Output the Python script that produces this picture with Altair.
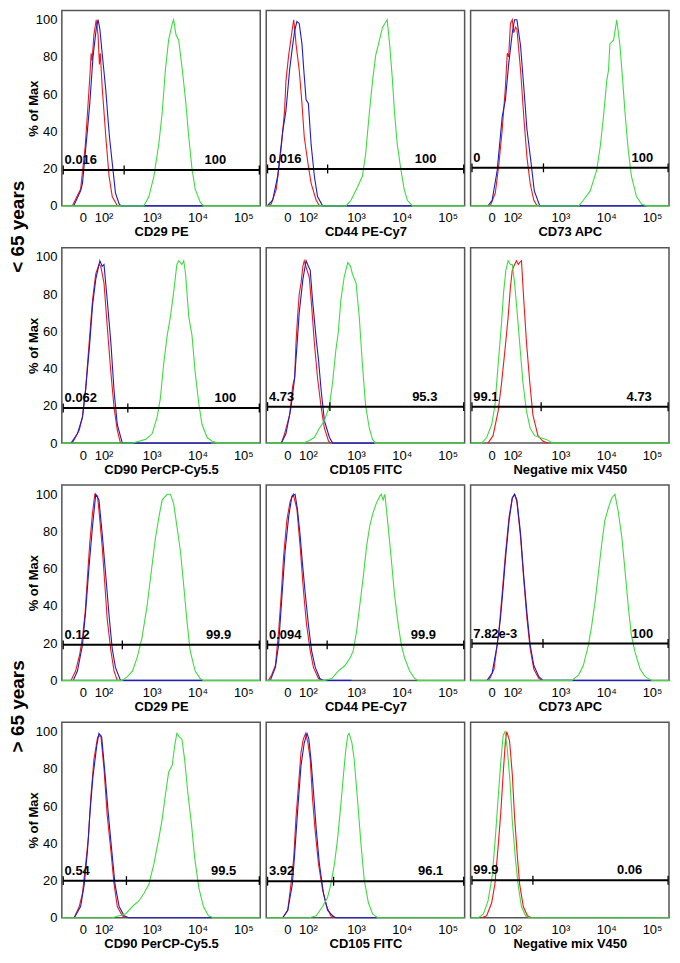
import altair as alt
import pandas as pd

FONT = "Liberation Sans"
RED = "#f01818"
BLUE = "#1c1cc8"
GREEN = "#3fdc3f"

TITLES = ["CD29 PE", "CD44 PE-Cy7", "CD73 APC", "CD90 PerCP-Cy5.5", "CD105 FITC", "Negative mix V450",
          "CD29 PE", "CD44 PE-Cy7", "CD73 APC", "CD90 PerCP-Cy5.5", "CD105 FITC", "Negative mix V450"]
ROW_LABELS = ["< 65 years", "> 65 years"]

# x: fluorescence in decade units of the display scale, y: % of Max
p1_red_x = [1.27, 1.45, 1.55, 1.60, 1.65, 1.68, 1.70, 1.74, 1.79, 1.83, 1.86, 1.88, 1.92, 2.00, 2.07, 2.14, 2.25]
p1_red_y = [0, 9, 32, 50, 69, 82, 78, 92, 100, 92, 76, 82, 64, 37, 16, 5, 0]
p1_blue_x = [1.30, 1.45, 1.49, 1.60, 1.65, 1.72, 1.79, 1.83, 1.87, 1.92, 2.00, 2.05, 2.08, 2.14, 2.21, 2.29, 2.33, 4.13]
p1_blue_y = [0, 8, 12, 41, 55, 80, 95, 100, 95, 82, 62, 46, 37, 23, 7, 1, 0, 0]
p1_green_x = [1.04, 2.83, 2.94, 3.05, 3.16, 3.23, 3.30, 3.37, 3.45, 3.48, 3.53, 3.59, 3.66, 3.74, 3.81, 3.88, 3.95, 4.06, 4.13, 5.37]
p1_green_y = [0, 0, 5, 16, 34, 50, 73, 89, 98, 100, 92, 89, 75, 57, 37, 20, 9, 2, 0, 0]

p2_red_x = [1.08, 1.15, 1.26, 1.33, 1.37, 1.44, 1.47, 1.53, 1.57, 1.61, 1.64, 1.67, 1.69, 1.76, 1.82, 1.87, 1.95, 2.02, 2.13, 2.20]
p2_red_y = [0, 1, 9, 23, 32, 51, 67, 81, 88, 95, 100, 93, 87, 73, 55, 37, 23, 12, 3, 0]
p2_blue_x = [1.06, 1.18, 1.29, 1.40, 1.47, 1.55, 1.61, 1.66, 1.71, 1.76, 1.82, 1.86, 1.91, 1.96, 2.02, 2.09, 2.16, 2.27, 4.23]
p2_blue_y = [0, 3, 16, 40, 51, 73, 85, 94, 99, 98, 87, 73, 57, 55, 33, 16, 5, 0, 0]
p2_green_x = [1.04, 2.78, 2.89, 3.03, 3.14, 3.21, 3.29, 3.36, 3.43, 3.50, 3.58, 3.63, 3.68, 3.74, 3.79, 3.84, 3.90, 3.97, 4.05, 4.12, 4.23, 5.37]
p2_green_y = [0, 0, 3, 10, 16, 28, 50, 67, 81, 88, 96, 98, 100, 85, 69, 50, 33, 21, 9, 3, 0, 0]

p3_red_x = [1.47, 1.58, 1.66, 1.73, 1.80, 1.84, 1.87, 1.91, 1.95, 1.98, 2.02, 2.05, 2.13, 2.20, 2.27, 2.34, 2.42, 2.49]
p3_red_y = [0, 7, 23, 41, 64, 82, 80, 98, 100, 93, 96, 95, 73, 48, 26, 12, 3, 0]
p3_blue_x = [1.42, 1.51, 1.62, 1.73, 1.80, 1.87, 1.95, 2.00, 2.05, 2.13, 2.20, 2.27, 2.36, 2.43, 2.55, 4.88]
p3_blue_y = [0, 3, 19, 48, 57, 76, 93, 100, 100, 86, 64, 41, 23, 8, 0, 0]
p3_green_x = [1.04, 3.40, 3.50, 3.65, 3.79, 3.87, 3.94, 4.01, 4.05, 4.08, 4.16, 4.23, 4.30, 4.36, 4.41, 4.48, 4.55, 4.66, 4.77, 4.88, 5.37]
p3_green_y = [0, 0, 3, 8, 19, 32, 48, 67, 73, 87, 89, 100, 86, 67, 50, 30, 16, 5, 1, 0, 0]

p4_red_x = [1.27, 1.42, 1.49, 1.56, 1.63, 1.71, 1.78, 1.85, 1.89, 1.96, 2.03, 2.11, 2.18, 2.25, 2.32]
p4_red_y = [0, 7, 14, 29, 52, 77, 91, 96, 95, 86, 63, 38, 19, 7, 0]
p4_blue_x = [1.24, 1.38, 1.49, 1.56, 1.65, 1.71, 1.78, 1.87, 1.92, 1.96, 2.03, 2.11, 2.18, 2.25, 2.36, 4.30]
p4_blue_y = [0, 5, 14, 29, 54, 74, 88, 98, 95, 96, 77, 54, 28, 10, 0, 0]
p4_green_x = [1.04, 2.58, 2.72, 2.87, 3.01, 3.12, 3.19, 3.26, 3.34, 3.41, 3.48, 3.55, 3.59, 3.66, 3.70, 3.74, 3.81, 3.88, 3.95, 4.03, 4.10, 4.21, 4.32, 4.46, 5.37]
p4_green_y = [0, 0, 1, 2, 5, 14, 24, 42, 58, 68, 81, 96, 98, 96, 98, 91, 68, 58, 38, 21, 10, 3, 1, 0, 0]

p5_red_x = [1.37, 1.44, 1.55, 1.62, 1.66, 1.69, 1.73, 1.76, 1.80, 1.84, 1.87, 1.93, 1.98, 2.03, 2.09, 2.16, 2.24, 2.31, 2.40, 2.45]
p5_red_y = [0, 5, 15, 31, 35, 54, 70, 80, 86, 95, 98, 93, 89, 74, 54, 35, 19, 8, 1, 0]
p5_blue_x = [1.37, 1.47, 1.58, 1.66, 1.71, 1.76, 1.84, 1.91, 1.96, 2.00, 2.05, 2.13, 2.18, 2.24, 2.31, 2.42, 2.49, 3.40]
p5_blue_y = [0, 5, 19, 35, 52, 70, 88, 98, 95, 93, 77, 56, 45, 28, 12, 3, 0, 0]
p5_green_x = [1.04, 1.84, 1.95, 2.09, 2.20, 2.31, 2.42, 2.49, 2.56, 2.61, 2.67, 2.74, 2.82, 2.88, 2.92, 3.00, 3.07, 3.14, 3.21, 3.29, 3.36, 3.43, 5.37]
p5_green_y = [0, 0, 1, 3, 8, 12, 20, 33, 50, 59, 77, 89, 97, 95, 91, 86, 68, 42, 20, 8, 2, 0, 0]

p6_red_x = [1.42, 1.53, 1.64, 1.71, 1.79, 1.86, 1.91, 1.95, 2.00, 2.04, 2.08, 2.11, 2.15, 2.20, 2.26, 2.33, 2.40, 2.51, 2.62, 2.73]
p6_red_y = [0, 4, 17, 31, 50, 68, 84, 93, 96, 98, 96, 97, 98, 77, 54, 33, 15, 4, 1, 0]
p6_green_x = [1.04, 1.28, 1.39, 1.50, 1.57, 1.64, 1.71, 1.76, 1.81, 1.86, 1.91, 1.95, 2.00, 2.05, 2.11, 2.18, 2.26, 2.34, 2.44, 2.55, 2.69, 2.84, 5.37]
p6_green_y = [0, 0, 3, 10, 20, 42, 63, 81, 93, 98, 96, 96, 86, 72, 54, 33, 17, 8, 4, 3, 2, 0, 0]

p7_red_x = [1.24, 1.34, 1.43, 1.49, 1.55, 1.60, 1.65, 1.71, 1.76, 1.82, 1.87, 1.92, 1.98, 2.03, 2.11, 2.18, 2.25]
p7_red_y = [0, 5, 14, 23, 37, 56, 74, 90, 100, 99, 86, 72, 51, 33, 16, 5, 0]
p7_blue_x = [1.29, 1.38, 1.49, 1.56, 1.63, 1.71, 1.78, 1.85, 1.92, 2.00, 2.07, 2.14, 2.21, 2.32, 4.10]
p7_blue_y = [0, 5, 19, 37, 60, 83, 100, 97, 79, 56, 35, 17, 7, 0, 0]
p7_green_x = [1.04, 2.36, 2.47, 2.58, 2.68, 2.79, 2.90, 3.01, 3.08, 3.16, 3.23, 3.34, 3.41, 3.48, 3.55, 3.63, 3.70, 3.77, 3.84, 3.95, 4.06, 4.13, 5.37]
p7_green_y = [0, 0, 2, 5, 12, 23, 40, 62, 76, 88, 97, 100, 100, 95, 83, 69, 51, 32, 16, 5, 1, 0, 0]

p8_red_x = [1.09, 1.16, 1.24, 1.31, 1.37, 1.42, 1.49, 1.56, 1.63, 1.71, 1.78, 1.85, 1.92, 2.00, 2.07, 2.18, 2.25]
p8_red_y = [0, 3, 8, 26, 47, 67, 86, 96, 100, 92, 72, 49, 30, 16, 7, 1, 0]
p8_blue_x = [1.13, 1.24, 1.31, 1.38, 1.45, 1.53, 1.60, 1.67, 1.72, 1.78, 1.83, 1.89, 1.96, 2.03, 2.11, 2.21, 2.29, 2.90]
p8_blue_y = [0, 7, 19, 44, 69, 88, 99, 100, 92, 78, 63, 47, 30, 16, 7, 1, 0, 0]
p8_green_x = [1.04, 2.32, 2.47, 2.61, 2.76, 2.87, 2.94, 3.01, 3.08, 3.16, 3.23, 3.30, 3.37, 3.44, 3.52, 3.55, 3.59, 3.63, 3.70, 3.77, 3.84, 3.92, 3.99, 4.06, 4.17, 4.28, 4.35, 5.37]
p8_green_y = [0, 0, 1, 5, 8, 12, 16, 26, 40, 56, 72, 83, 90, 95, 99, 100, 97, 100, 83, 65, 46, 30, 19, 12, 5, 1, 0, 0]

p9_red_x = [1.44, 1.55, 1.66, 1.73, 1.80, 1.88, 1.95, 2.00, 2.05, 2.13, 2.20, 2.27, 2.34, 2.42, 2.53, 2.60]
p9_red_y = [0, 6, 27, 47, 68, 88, 98, 100, 96, 77, 54, 33, 17, 6, 1, 0]
p9_blue_x = [1.40, 1.51, 1.62, 1.69, 1.74, 1.80, 1.88, 1.95, 2.00, 2.05, 2.13, 2.20, 2.27, 2.34, 2.42, 2.53, 2.62, 4.99]
p9_blue_y = [0, 4, 19, 33, 47, 65, 86, 98, 100, 97, 79, 56, 36, 19, 8, 2, 0, 0]
p9_green_x = [1.04, 3.25, 3.40, 3.50, 3.61, 3.68, 3.76, 3.83, 3.90, 3.97, 4.05, 4.12, 4.19, 4.26, 4.34, 4.41, 4.48, 4.55, 4.63, 4.74, 4.85, 4.99, 5.37]
p9_green_y = [0, 0, 3, 8, 19, 29, 43, 58, 73, 86, 93, 98, 100, 91, 77, 59, 40, 24, 15, 6, 2, 0, 0]

p10_red_x = [1.31, 1.42, 1.49, 1.56, 1.62, 1.67, 1.74, 1.82, 1.89, 1.96, 2.03, 2.11, 2.18, 2.25, 2.36, 2.43]
p10_red_y = [0, 6, 13, 29, 43, 64, 85, 97, 98, 80, 55, 36, 18, 6, 1, 0]
p10_blue_x = [1.31, 1.45, 1.53, 1.60, 1.65, 1.72, 1.80, 1.85, 1.91, 1.98, 2.05, 2.13, 2.20, 2.29, 2.40, 2.50, 4.32]
p10_blue_y = [0, 6, 18, 36, 55, 76, 92, 99, 97, 78, 57, 36, 18, 6, 1, 0, 0]
p10_green_x = [1.04, 2.14, 2.29, 2.43, 2.58, 2.72, 2.83, 2.94, 3.05, 3.16, 3.23, 3.30, 3.37, 3.45, 3.50, 3.55, 3.61, 3.66, 3.72, 3.79, 3.87, 3.94, 4.03, 4.13, 4.24, 4.35, 5.37]
p10_green_y = [0, 0, 1, 2, 6, 9, 13, 18, 29, 43, 53, 66, 78, 82, 92, 99, 97, 96, 85, 67, 50, 32, 16, 6, 1, 0, 0]

p11_red_x = [1.40, 1.51, 1.58, 1.64, 1.69, 1.75, 1.80, 1.85, 1.90, 1.95, 2.00, 2.05, 2.11, 2.18, 2.27, 2.36, 2.45, 2.53]
p11_red_y = [0, 4, 18, 32, 54, 73, 89, 96, 99, 94, 85, 64, 46, 29, 15, 6, 1, 0]
p11_blue_x = [1.40, 1.51, 1.61, 1.66, 1.73, 1.80, 1.87, 1.93, 1.97, 2.02, 2.07, 2.13, 2.20, 2.29, 2.38, 2.49, 2.56, 3.47]
p11_blue_y = [0, 4, 18, 34, 59, 82, 94, 99, 96, 84, 68, 48, 29, 13, 4, 1, 0, 0]
p11_green_x = [1.04, 1.98, 2.13, 2.27, 2.38, 2.45, 2.53, 2.60, 2.67, 2.73, 2.78, 2.82, 2.85, 2.91, 2.96, 3.03, 3.11, 3.18, 3.27, 3.36, 3.47, 5.37]
p11_green_y = [0, 0, 1, 6, 11, 18, 29, 43, 61, 78, 91, 98, 99, 94, 85, 64, 39, 20, 8, 2, 0, 0]

p12_red_x = [1.28, 1.39, 1.50, 1.57, 1.64, 1.70, 1.75, 1.80, 1.83, 1.89, 1.95, 2.00, 2.06, 2.11, 2.19, 2.28, 2.37]
p12_red_y = [0, 1, 8, 18, 38, 57, 77, 95, 100, 95, 77, 54, 33, 18, 6, 1, 0]
p12_green_x = [1.04, 1.21, 1.32, 1.42, 1.51, 1.58, 1.64, 1.70, 1.75, 1.79, 1.84, 1.90, 1.95, 2.02, 2.08, 2.15, 2.24, 2.33, 5.37]
p12_green_y = [0, 0, 2, 9, 22, 43, 64, 84, 98, 100, 91, 73, 52, 31, 17, 6, 1, 0, 0]

# gates
GATE_Y = [19.3, 19.8, 20.4, 18.9, 19.6, 19.5, 19.1, 19.1, 19.8, 19.9, 19.6, 20.1]
GATE_MID = [2.40, 2.38, 2.63, 2.48, 2.43, 2.58, 2.36, 2.37, 2.62, 2.45, 2.51, 2.40]
GATE_LEFT = 1.07
GATE_RIGHT = 5.35
LEFT_LABELS = ["0.016", "0.016", "0", "0.062", "4.73", "99.1", "0.12", "0.094", "7.82e-3", "0.54", "3.92", "99.9"]
RIGHT_LABELS = ["100", "100", "100", "100", "95.3", "4.73", "99.9", "99.9", "100", "99.5", "96.1", "0.06"]
RIGHT_LABEL_X = [4.39, 4.52, 4.79, 4.61, 4.50, 4.72, 4.46, 4.47, 4.79, 4.57, 4.63, 4.51]

X_TICKS = [1.5, 1.95, 3, 4, 5]
Y_TICKS = [0, 20, 40, 60, 80, 100]

CURVES = [
    (p1_red_x, p1_red_y, p1_blue_x, p1_blue_y, p1_green_x, p1_green_y),
    (p2_red_x, p2_red_y, p2_blue_x, p2_blue_y, p2_green_x, p2_green_y),
    (p3_red_x, p3_red_y, p3_blue_x, p3_blue_y, p3_green_x, p3_green_y),
    (p4_red_x, p4_red_y, p4_blue_x, p4_blue_y, p4_green_x, p4_green_y),
    (p5_red_x, p5_red_y, p5_blue_x, p5_blue_y, p5_green_x, p5_green_y),
    (p6_red_x, p6_red_y, None, None, p6_green_x, p6_green_y),
    (p7_red_x, p7_red_y, p7_blue_x, p7_blue_y, p7_green_x, p7_green_y),
    (p8_red_x, p8_red_y, p8_blue_x, p8_blue_y, p8_green_x, p8_green_y),
    (p9_red_x, p9_red_y, p9_blue_x, p9_blue_y, p9_green_x, p9_green_y),
    (p10_red_x, p10_red_y, p10_blue_x, p10_blue_y, p10_green_x, p10_green_y),
    (p11_red_x, p11_red_y, p11_blue_x, p11_blue_y, p11_green_x, p11_green_y),
    (p12_red_x, p12_red_y, None, None, p12_green_x, p12_green_y),
]

W = 199
H = 196

x_label_expr = ("datum.value < 1.8 ? '0' : datum.value < 2.5 ? '10\u00b2' : "
                "datum.value < 3.5 ? '10\u00b3' : datum.value < 4.5 ? '10\u2074' : '10\u2075'")


def make_panel(i, show_y, row_label=None, row_label_dy=0):
    xenc = alt.X("x:Q", title=TITLES[i],
                 scale=alt.Scale(domain=[1.04, 5.37], nice=False, zero=False),
                 axis=alt.Axis(values=X_TICKS, labelExpr=x_label_expr, labelOverlap=False,
                               labelFlush=False, labelPadding=6, titlePadding=1))
    if show_y:
        yaxis = alt.Axis(values=Y_TICKS, labelPadding=5, titlePadding=-5, title="% of Max",
                         labelOverlap=False, labelFlush=False)
    else:
        yaxis = None
    yscale = alt.Scale(domain=[0, 105], nice=False)
    yenc = alt.Y("y:Q", title="% of Max", scale=yscale, axis=yaxis)

    rx, ry, bx, by, gx, gy = CURVES[i]
    layers = []
    for xs, ys, col in [(rx, ry, RED), (bx, by, BLUE), (gx, gy, GREEN)]:
        if xs is None:
            continue
        df = pd.DataFrame({"x": xs, "y": ys})
        layers.append(alt.Chart(df).mark_line(color=col, strokeWidth=1.1).encode(x=xenc, y=yenc))

    gy_ = GATE_Y[i]
    seg = pd.DataFrame({"x": [GATE_LEFT, GATE_MID[i]], "x2": [GATE_MID[i], GATE_RIGHT], "y": [gy_, gy_]})
    layers.append(alt.Chart(seg).mark_rule(color="black", strokeWidth=2).encode(x=xenc, x2="x2:Q", y=yenc))
    ends = pd.DataFrame({"x": [GATE_LEFT, GATE_MID[i], GATE_RIGHT], "y": [gy_] * 3})
    layers.append(alt.Chart(ends).transform_calculate(lo="datum.y - 2.4", hi="datum.y + 2.4")
                  .mark_rule(color="black", strokeWidth=1.3)
                  .encode(x=xenc, y=alt.Y("lo:Q", title="% of Max", scale=yscale, axis=yaxis), y2="hi:Q"))
    lt = pd.DataFrame({"x": [1.10], "y": [gy_], "t": [LEFT_LABELS[i]]})
    layers.append(alt.Chart(lt).mark_text(align="left", baseline="alphabetic", dy=-6, fontSize=13,
                                          fontWeight="bold", font=FONT, color="black")
                  .encode(x=xenc, y=yenc, text="t:N"))
    rt = pd.DataFrame({"x": [RIGHT_LABEL_X[i]], "y": [gy_], "t": [RIGHT_LABELS[i]]})
    layers.append(alt.Chart(rt).mark_text(align="center", baseline="alphabetic", dy=-6, fontSize=13,
                                          fontWeight="bold", font=FONT, color="black")
                  .encode(x=xenc, y=yenc, text="t:N"))
    if row_label is not None:
        rl = pd.DataFrame({"t": [row_label]})
        layers.append(alt.Chart(rl).mark_text(angle=270, fontSize=19, fontWeight="bold", font=FONT,
                                              align="center", baseline="middle", color="black")
                      .encode(text="t:N", x=alt.value(-44), y=alt.value(row_label_dy)))
    return alt.layer(*layers).properties(width=W, height=H)


panels = []
for r in range(4):
    for c in range(3):
        i = r * 3 + c
        if i == 3:
            p = make_panel(i, True, ROW_LABELS[0], -21)
        elif i == 9:
            p = make_panel(i, True, ROW_LABELS[1], -16)
        else:
            p = make_panel(i, c == 0)
        panels.append(p)

chart = alt.concat(*panels, columns=3, spacing={"row": 42, "column": 6}, bounds="flush").properties(
    padding=0
).configure_view(
    stroke="#555555", strokeWidth=1.5
).configure_axis(
    domain=False, ticks=False, grid=False, labelOverlap=False,
    labelFont=FONT, labelFontSize=13, labelColor="black",
    titleFont=FONT, titleFontSize=13, titleFontWeight="bold", titleColor="black"
)

chart.save("out.html", embed_options={"renderer": "svg", "actions": False})
